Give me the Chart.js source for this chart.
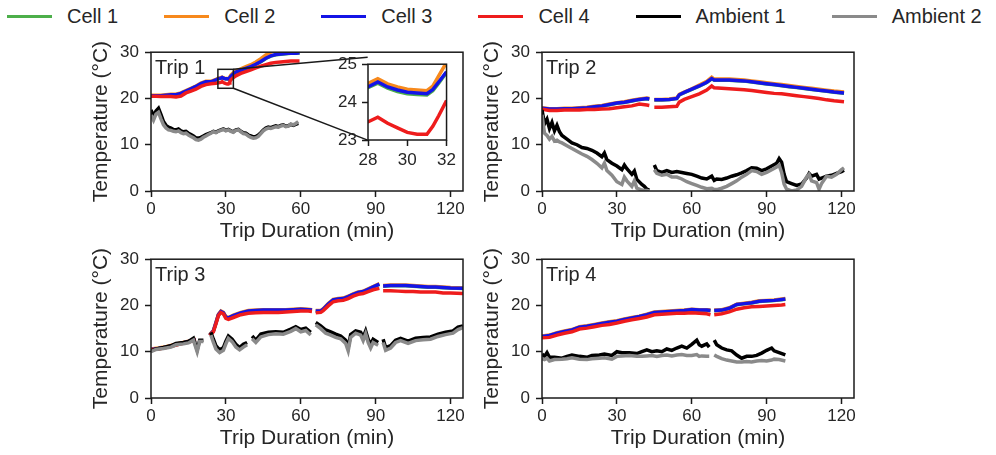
<!DOCTYPE html>
<html>
<head>
<meta charset="utf-8">
<script src="https://cdn.jsdelivr.net/npm/chart.js@4.4.1/dist/chart.umd.min.js"></script>
<style>
body { margin: 0; background: #fff; width: 996px; height: 455px; position: relative; overflow: hidden;
       font-family: 'Liberation Sans', Arial, sans-serif; }
.panel { position: absolute; }
#legend { position: absolute; left: 7px; top: 4px; height: 24px; display: flex; align-items: center;
          font-size: 20px; color: #262626; white-space: nowrap; }
.item { display: flex; align-items: center; margin-right: 46px; }
.swatch { width: 45px; height: 3px; margin-right: 15px; }
</style>
</head>
<body>
<div id="legend"></div>
<div class="panel" style="left:81px;top:36px;width:396px;height:211px"><canvas id="trip1"></canvas></div>
<div class="panel" style="left:472px;top:36px;width:396px;height:211px"><canvas id="trip2"></canvas></div>
<div class="panel" style="left:81px;top:243px;width:396px;height:211px"><canvas id="trip3"></canvas></div>
<div class="panel" style="left:472px;top:243px;width:396px;height:211px"><canvas id="trip4"></canvas></div>
<div class="panel" style="left:323px;top:49px;width:137px;height:119px"><canvas id="inset"></canvas></div>
<script>
var seriesNames = ['Cell 1', 'Cell 2', 'Cell 3', 'Cell 4', 'Ambient 1', 'Ambient 2'];
var seriesColors = ['#4daf4a', '#f7891c', '#1414e6', '#ee1c1c', '#000000', '#8a8a8a'];

var xTickValues = [0, 30, 60, 90, 120];
var yTickValues = [0, 10, 20, 30];
var insetXTicks = [28, 30, 32];
var insetYTicks = [23, 24, 25];

// zoom box drawn in trip 1 and where its connectors meet the inset (data units of trip 1)
var zoomBoxTime = [26.8, 33];
var zoomBoxTemp = [22.2, 26.3];
var insetCornerTime = 86.8;
var insetCornerTemp = [11.0, 28.9];

// ---- Trip 1 ----
var trip1CellTime = [0,2,4,6,8,10,12,14,16,18,20,22,24,26,27, 28,28.5,29,29.5,30,30.5,31,31.3,31.6,32, 33,34,36,38,40,42,44,46,48,50,52,54,56,58,59.5];
var trip1Cell1 = [20.55,20.55,20.55,20.65,20.75,20.75,21.05,21.55,22.05,22.55,23.15,23.55,23.55,23.95,24.25,
  24.38,24.5,24.37,24.28,24.22,24.2,24.19,24.3,24.5,24.78,
  25.25,25.65,26.05,26.45,26.85,27.35,27.95,28.65,29.15,29.45,29.55,29.65,29.75,29.75,29.85];
var trip1Cell2 = [20.7,20.7,20.7,20.8,20.9,20.9,21.2,21.7,22.2,22.7,23.3,23.7,23.7,24.1,24.4,
  24.49,24.62,24.48,24.4,24.34,24.32,24.3,24.42,24.69,25.05,
  25.6,26.0,26.4,26.9,27.3,27.9,28.6,29.4,30.0,30.4,30.6,30.7,30.8,30.8,30.9];
var trip1Cell3 = [20.6,20.6,20.6,20.7,20.8,20.8,21.1,21.6,22.1,22.6,23.2,23.6,23.6,24.0,24.3,
  24.4,24.53,24.4,24.32,24.26,24.24,24.22,24.33,24.53,24.8,
  25.3,25.7,26.1,26.5,26.9,27.4,28.0,28.7,29.2,29.5,29.6,29.7,29.8,29.8,29.9];
var trip1Cell4 = [20.5,20.5,20.4,20.4,20.4,20.3,20.5,21.2,21.6,22.0,22.6,23.0,23.2,23.3,23.4,
  23.48,23.6,23.44,23.32,23.2,23.15,23.15,23.36,23.64,24.04,
  24.5,24.9,25.4,25.8,26.2,26.6,27.0,27.3,27.6,27.8,27.9,28.0,28.1,28.1,28.1];
var trip1AmbTime = [0,1,2,3,4,5,6,7,8,9,10,11,12,13,14,15,16,17,18,19,20,21,22,23,24,25,26,27,28,29,
  30,31,32,33,34,35,36,37,38,39,40,41,42,43,44,45,46,47,48,49,50,51,52,53,54,55,56,57,58,59];
var trip1Ambient1 = [17.5,16.2,17.3,17.9,16.5,15.0,14.2,13.8,13.6,13.3, 13.2,13.4,13.0,12.8,12.9,12.5,12.2,11.9,11.5,11.4,
  11.6,11.9,12.2,12.4,12.6,12.9,12.7,13.0,13.2,13.4, 13.1,13.3,13.0,12.8,13.2,13.3,12.9,12.6,12.5,12.1,
  11.9,11.7,11.8,12.1,12.6,13.2,13.6,13.8,13.7,13.9, 14.1,13.9,14.2,14.3,14.0,14.1,14.4,14.2,14.4,14.6];
var trip1Ambient2 = [16.4,15.3,16.6,17.0,15.6,14.3,13.6,13.2,13.1,12.9, 12.8,13.0,12.6,12.4,12.5,12.1,11.8,11.5,11.1,11.0,
  11.2,11.6,11.9,12.2,12.5,12.8,12.6,12.9,13.1,13.3, 13.0,13.2,12.9,12.7,13.1,13.2,12.8,12.4,12.3,11.9,
  11.6,11.4,11.5,11.8,12.4,13.0,13.4,13.6,13.5,13.7, 13.9,13.8,14.0,14.2,13.9,14.0,14.5,14.3,14.6,15.0];

// ---- Trip 2 ----
var trip2CellTime = [0,3,6,9,12,15,18,21,24,27, 30,33,36,39,42,43,44,45,48,51, 54,55,57,60,63,66,68,69,72,75,
  78,81,84,87,90,93,96,99,102,105, 108,111,114,117,121];
var trip2Cell1 = [17.85,17.65,17.65,17.75,17.75,17.85,17.95,18.15,18.35,18.65, 18.95,19.15,19.45,19.75,19.95,19.85,null,19.65,19.65,19.75,
  19.95,20.75,21.25,21.95,22.65,23.45,24.25,23.95,23.95,23.95, 23.85,23.75,23.55,23.35,23.15,22.95,22.75,22.55,22.35,22.15,
  21.95,21.75,21.55,21.35,21.15];
var trip2Cell2 = [18.0,17.8,17.8,17.9,17.9,18.0,18.1,18.3,18.5,18.8, 19.1,19.3,19.6,19.9,20.1,20.0,null,19.8,19.8,19.9,
  20.1,20.9,21.4,22.1,22.9,23.7,24.6,24.2,24.2,24.2, 24.1,24.0,23.8,23.6,23.4,23.2,23.0,22.8,22.6,22.4,
  22.2,22.0,21.8,21.6,21.4];
var trip2Cell3 = [17.9,17.7,17.7,17.8,17.8,17.9,18.0,18.2,18.4,18.7, 19.0,19.2,19.5,19.8,20.0,19.9,null,19.7,19.7,19.8,
  20.0,20.8,21.3,22.0,22.7,23.5,24.3,24.0,24.0,24.0, 23.9,23.8,23.6,23.4,23.2,23.0,22.8,22.6,22.4,22.2,
  22.0,21.8,21.6,21.4,21.2];
var trip2Cell4 = [17.7,17.4,17.4,17.5,17.5,17.5,17.6,17.6,17.7,17.8, 18.0,18.2,18.4,18.8,18.6,18.5,null,18.1,18.1,18.2,
  18.3,19.2,19.8,20.4,21.0,21.8,22.7,22.3,22.2,22.1, 22.0,21.9,21.7,21.5,21.3,21.1,21.0,20.8,20.6,20.4,
  20.2,20.0,19.7,19.5,19.3];
var trip2AmbTime = [0,1,2,3,4,5,6,7,8, 10,12,14,16,18,20,22,24, 25,26,28,30,32,33,34,36,37,38,
  40,41,42,43,44,45,46,48,50,52, 54,56,58,60,62,64,66,68,69,70, 72,74,76,78,80,82,84,86,88,90,
  92,94,95,96,97,98,100,102,104,106, 107,108,110,111,112,114,116,118,120,121];
var trip2Ambient1 = [17.5,14.5,15.5,13.5,14.8,13.0,14.2,12.8,12.0, 11.2,10.4,10.0,9.4,9.2,8.8,8.2,7.4,
  8.2,6.8,6.0,5.4,4.6,5.6,4.8,3.6,4.3,2.5, 1.4,1.0,0.4,0.2,null,5.6,4.4,4.0,4.4,4.0,
  4.2,4.0,3.8,3.6,3.2,2.8,2.6,3.2,2.3,2.6, 2.5,2.8,3.2,3.5,3.9,4.4,5.0,4.9,4.4,4.8,
  5.4,6.0,7.0,6.2,3.6,2.0,1.6,1.2,1.5,2.8, 3.8,3.2,3.6,2.6,2.8,3.2,3.4,3.8,4.2,4.5];
var trip2Ambient2 = [16.5,12.5,12.0,11.2,11.8,10.8,11.0,10.6,10.4, 9.8,9.2,8.6,8.0,7.5,6.8,6.0,5.0,
  6.0,4.4,3.4,2.0,1.4,3.0,2.2,1.0,2.2,0.6, 0.2,0.1,0.1,0.0,null,4.6,3.8,3.4,3.6,3.0,
  3.0,2.6,2.0,1.6,1.2,0.8,0.5,0.6,0.3,0.3, 0.6,1.0,1.6,2.2,3.0,3.6,4.4,4.2,3.6,4.0,
  4.6,5.2,5.6,4.0,1.5,0.4,0.0,0.2,1.0,3.0, 3.6,2.2,1.8,0.4,1.6,3.2,3.0,3.6,4.6,5.0];

// ---- Trip 3 ----
var trip3CellTime = [0,3,6,9,12,15,18,20,23.5,25, 26,27,28,29,30,31,33,36,39,42, 45,48,51,54,57,60,63,64.5,65.2,66,
  68,69,71,73,75,77,79,81,83,85, 87,89,91.5,92.3,93,96,99,102,105,108, 111,114,117,120,125];
var trip3Cell1 = [10.45,10.65,10.95,11.35,11.75,12.15,12.55,null,13.55,14.45, 16.15,17.95,18.65,18.35,17.45,17.25,17.75,18.35,18.75,18.85,
  18.95,18.95,18.95,18.95,19.05,19.15,19.05,18.95,null,18.75, 18.75,19.15,20.25,21.15,21.35,21.45,21.85,22.35,22.75,22.95,
  23.45,23.95,24.55,null,24.15,24.25,24.25,24.25,24.15,24.05, 23.95,23.95,23.85,23.75,23.65];
var trip3Cell2 = [10.6,10.8,11.1,11.5,11.9,12.3,12.7,null,13.7,14.6, 16.3,18.1,18.8,18.5,17.6,17.4,17.9,18.5,18.9,19.0,
  19.1,19.1,19.1,19.1,19.2,19.3,19.2,19.1,null,18.9, 18.9,19.3,20.4,21.3,21.5,21.6,22.0,22.5,22.9,23.1,
  23.6,24.1,24.7,null,24.3,24.4,24.4,24.4,24.3,24.2, 24.1,24.1,24.0,23.9,23.8];
var trip3Cell3 = [10.5,10.7,11.0,11.4,11.8,12.2,12.6,null,13.6,14.5, 16.2,18.0,18.7,18.4,17.5,17.3,17.8,18.4,18.8,18.9,
  19.0,19.0,19.0,19.0,19.1,19.2,19.1,19.0,null,18.8, 18.8,19.2,20.3,21.2,21.4,21.5,21.9,22.4,22.8,23.0,
  23.5,24.0,24.6,null,24.2,24.3,24.3,24.3,24.2,24.1, 24.0,24.0,23.9,23.8,23.7];
var trip3Cell4 = [10.4,10.6,10.9,11.3,11.7,12.1,12.5,null,13.5,14.3, 16.0,17.8,18.5,18.2,17.2,17.0,17.4,18.0,18.3,18.4,
  18.5,18.5,18.5,18.6,18.7,18.8,18.8,18.7,null,18.4, 18.5,18.9,19.9,20.8,21.0,21.1,21.5,22.0,22.4,22.6,
  23.0,23.4,23.7,null,23.2,23.2,23.1,23.0,23.0,22.9, 22.9,22.9,22.7,22.7,22.6];
var trip3AmbTime = [0,2,5,8,10,13,15,17,18.5,19.5, 21,22,24,25,26,27.5,29,30,31,32.5, 34,35.5,37,38.5,39.5,40.5,42,44,47,50,
  53,56,58,60,62,64,65,66,68,70, 72,74,76,78,79,80,82,84,85,86, 87,88,89,91,92,93,94,96,98,100,
  103,106,109,112,115,118,121,123,125];
var trip3Ambient1 = [10.2,10.6,10.9,11.3,11.8,12.0,12.2,12.9,10.4,12.5, 12.5,null,14.2,12.7,11.3,10.4,10.9,12.3,13.4,12.7,
  11.6,10.9,11.6,12.0,null,13.4,12.5,13.8,14.2,14.3, 14.2,14.9,15.4,14.8,15.1,14.2,null,16.3,15.6,14.7,
  14.3,13.8,13.4,12.5,10.9,13.7,14.5,14.2,13.1,14.5, 12.7,11.6,12.7,12.0,null,12.7,10.9,11.3,12.5,12.9,
  12.3,12.9,13.1,13.2,13.8,14.2,14.5,15.3,15.6];
var trip3Ambient2 = [10.0,10.5,10.7,11.0,11.5,11.7,11.9,12.5,10.0,12.2, 12.2,null,13.6,12.0,10.6,9.8,10.3,11.7,12.9,12.2,
  11.0,10.4,11.0,11.5,null,12.8,12.0,13.2,13.7,13.9, 13.8,14.4,15.0,14.3,14.6,13.6,null,15.8,15.0,14.0,
  13.6,13.1,12.8,11.8,10.2,13.1,14.0,13.6,12.4,13.9, 12.0,10.8,12.0,11.4,null,12.0,10.3,10.8,12.0,12.4,
  11.8,12.4,12.6,12.7,13.3,13.7,14.0,14.8,15.2];

// ---- Trip 4 ----
var trip4CellTime = [0,3,6,9,12,15,18,21,24,27, 30,33,36,39,42,45,48,51,54,57, 60,63,66,67.5,68.2,69,72,75,78,81,
  84,87,90,93,96,97.5];
var trip4Cell1 = [13.25,13.45,13.95,14.35,14.65,15.25,15.45,15.75,16.05,16.35, 16.55,16.95,17.25,17.55,17.95,18.45,18.55,18.65,18.75,18.85,
  19.05,18.95,18.95,18.85,null,18.85,18.95,19.35,20.15,20.35, 20.55,20.85,20.95,21.05,21.25,21.35];
var trip4Cell2 = [13.4,13.6,14.1,14.5,14.8,15.4,15.6,15.9,16.2,16.5, 16.7,17.1,17.4,17.7,18.1,18.6,18.7,18.8,18.9,19.0,
  19.2,19.1,19.1,19.0,null,19.0,19.1,19.5,20.3,20.5, 20.7,21.0,21.1,21.2,21.4,21.5];
var trip4Cell3 = [13.3,13.5,14.0,14.4,14.7,15.3,15.5,15.8,16.1,16.4, 16.6,17.0,17.3,17.6,18.0,18.5,18.6,18.7,18.8,18.9,
  19.1,19.0,19.0,18.9,null,18.9,19.0,19.4,20.2,20.4, 20.6,20.9,21.0,21.1,21.3,21.4];
var trip4Cell4 = [13.0,13.1,13.6,14.0,14.3,14.9,15.1,15.4,15.7,15.9, 16.2,16.6,16.9,17.2,17.5,18.0,18.1,18.2,18.3,18.3,
  18.4,18.3,18.2,18.0,null,18.0,18.2,18.6,19.2,19.5, 19.7,19.8,19.9,20.0,20.1,20.2];
var trip4AmbTime = [0,1,2,3,5,8,10,12,15,18, 20,23,25,28,30,32,35,38,40,42, 44,46,48,50,52,54,56,58,60,62,
  63,64,66,67,68,69,70,72,74,76, 78,80,82,84,86,88,90,92,93,95, 97.5];
var trip4Ambient1 = [9.5,9.0,9.8,8.8,8.8,8.6,9.0,9.3,9.0,8.8, 9.2,9.3,9.5,9.2,10.0,9.8,9.8,9.6,10.0,10.4,
  10.0,10.2,10.0,10.6,10.3,10.8,11.2,10.8,11.6,12.5, 11.5,11.2,11.7,11.0,null,12.5,11.5,10.8,10.4,10.2,
  9.3,8.6,9.0,9.0,9.2,9.7,10.3,10.8,10.2,9.8, 9.3];
var trip4Ambient2 = [8.5,8.3,8.6,8.0,8.3,8.4,8.5,8.7,8.4,8.3, 8.5,8.6,8.7,8.4,9.0,9.1,9.2,9.0,9.0,9.1,
  9.2,9.0,9.2,9.3,9.1,9.3,9.4,9.2,9.2,9.4, 9.0,9.1,9.0,9.0,null,9.3,9.0,8.5,8.2,8.0,
  7.8,7.8,7.9,7.8,8.0,8.1,8.0,8.2,8.4,8.3, 8.0];

var FONT = "'Liberation Sans', Arial, sans-serif";
var TEXT = '#262626';
var AXIS = '#1a1a1a';

Chart.defaults.font.family = FONT;
Chart.defaults.color = TEXT;

function points(times, values) {
    return times.map(function (t, i) { return { x: t, y: values[i] }; });
}

function buildDatasets(cellTime, cells, ambTime, ambients) {
    var sets = [];
    cells.forEach(function (vals, i) {
        sets.push({ label: seriesNames[i], data: points(cellTime, vals), borderColor: seriesColors[i], order: 6 - i });
    });
    ambients.forEach(function (vals, j) {
        var i = 4 + j;
        sets.push({ label: seriesNames[i], data: points(ambTime, vals), borderColor: seriesColors[i], order: 6 - i });
    });
    sets.forEach(function (s) {
        s.borderWidth = 3.5;
        s.pointRadius = 0;
        s.tension = 0;
        s.fill = false;
        s.spanGaps = false;
    });
    return sets;
}

var panelDecor = {
    id: 'panelDecor',
    beforeDraw: function (chart, args, opts) {
        if (opts.whiteBg) {
            var a = chart.chartArea;
            chart.ctx.save();
            chart.ctx.fillStyle = '#fff';
            chart.ctx.fillRect(a.left, a.top, a.right - a.left, a.bottom - a.top);
            chart.ctx.restore();
        }
    },
    afterDatasetsDraw: function (chart, args, opts) {
        var ctx = chart.ctx, a = chart.chartArea;
        ctx.save();
        ctx.strokeStyle = AXIS;
        ctx.lineWidth = 1.5;
        if (opts.zoomBox) {
            var xs = chart.scales.x, ys = chart.scales.y;
            var x0 = xs.getPixelForValue(zoomBoxTime[0]), x1 = xs.getPixelForValue(zoomBoxTime[1]);
            var yLo = ys.getPixelForValue(zoomBoxTemp[0]), yHi = ys.getPixelForValue(zoomBoxTemp[1]);
            ctx.strokeRect(x0, yHi, x1 - x0, yLo - yHi);
            var cx = xs.getPixelForValue(insetCornerTime);
            ctx.beginPath();
            ctx.moveTo(x1, yHi);
            ctx.lineTo(cx, ys.getPixelForValue(insetCornerTemp[1]));
            ctx.moveTo(x1, yLo);
            ctx.lineTo(cx, ys.getPixelForValue(insetCornerTemp[0]));
            ctx.stroke();
        }
        ctx.strokeRect(a.left, a.top, a.right - a.left, a.bottom - a.top);
        ctx.fillStyle = TEXT;
        if (opts.label) {
            ctx.font = '20px ' + FONT;
            ctx.textAlign = 'left';
            ctx.textBaseline = 'alphabetic';
            ctx.fillText(opts.label, a.left + 4, a.top + 22);
        }
        if (opts.yTitle) {
            ctx.translate(a.left - 49.5, (a.top + a.bottom) / 2);
            ctx.rotate(-Math.PI / 2);
            ctx.font = '21px ' + FONT;
            ctx.textAlign = 'center';
            ctx.textBaseline = 'middle';
            ctx.fillText(opts.yTitle, 0, 0);
        }
        ctx.restore();
    }
};

function axis(min, max, tickValues, fitSize, horizontal, pad, title) {
    return {
        type: 'linear',
        min: min,
        max: max,
        afterBuildTicks: function (s) { s.ticks = tickValues.map(function (v) { return { value: v }; }); },
        afterFit: function (s) { if (horizontal) { s.height = fitSize; } else { s.width = fitSize; } },
        ticks: { font: { size: 17 }, color: TEXT, padding: pad, maxRotation: 0, autoSkip: false },
        grid: { display: true, drawOnChartArea: false, drawTicks: true, tickLength: 6, tickWidth: 1.5, tickColor: AXIS },
        border: { display: false },
        title: title ? { display: true, text: title, font: { size: 21 }, color: TEXT, padding: { top: 0, bottom: 3 } } : { display: false }
    };
}

function makeChart(id, datasets, decor, xRange, xTicks, yRange, yTicks, yWidth, xHeight, pads, xTitle, layoutPad) {
    return new Chart(document.getElementById(id), {
        type: 'line',
        data: { datasets: datasets },
        options: {
            responsive: true,
            maintainAspectRatio: false,
            animation: false,
            events: [],
            layout: { padding: layoutPad },
            plugins: { legend: { display: false }, tooltip: { enabled: false }, panelDecor: decor },
            scales: {
                x: axis(xRange[0], xRange[1], xTicks, xHeight, true, pads[0], xTitle),
                y: axis(yRange[0], yRange[1], yTicks, yWidth, false, pads[1], null)
            }
        },
        plugins: [panelDecor]
    });
}

var trips = [
    { id: 'trip1', label: 'Trip 1', cellTime: trip1CellTime, cells: [trip1Cell1, trip1Cell2, trip1Cell3, trip1Cell4],
      ambTime: trip1AmbTime, ambients: [trip1Ambient1, trip1Ambient2] },
    { id: 'trip2', label: 'Trip 2', cellTime: trip2CellTime, cells: [trip2Cell1, trip2Cell2, trip2Cell3, trip2Cell4],
      ambTime: trip2AmbTime, ambients: [trip2Ambient1, trip2Ambient2] },
    { id: 'trip3', label: 'Trip 3', cellTime: trip3CellTime, cells: [trip3Cell1, trip3Cell2, trip3Cell3, trip3Cell4],
      ambTime: trip3AmbTime, ambients: [trip3Ambient1, trip3Ambient2] },
    { id: 'trip4', label: 'Trip 4', cellTime: trip4CellTime, cells: [trip4Cell1, trip4Cell2, trip4Cell3, trip4Cell4],
      ambTime: trip4AmbTime, ambients: [trip4Ambient1, trip4Ambient2] }
];

trips.forEach(function (t) {
    makeChart(t.id, buildDatasets(t.cellTime, t.cells, t.ambTime, t.ambients),
        { label: t.label, yTitle: 'Temperature (\u00B0C)', zoomBox: t.id === 'trip1' },
        [0, 125], xTickValues, [0, 30], yTickValues, 70, 56, [2, 6], 'Trip Duration (min)',
        { top: 16, right: 14, left: 0, bottom: 0 });
});

// inset for trip 1
makeChart('inset', buildDatasets(trip1CellTime, [trip1Cell1, trip1Cell2, trip1Cell3, trip1Cell4], [], []),
    { whiteBg: true },
    [28, 32], insetXTicks, [23, 25], insetYTicks, 45, 28, [4, 5], null,
    { top: 8, right: 10, left: 0, bottom: 0 });

// legend
var legend = document.getElementById('legend');
seriesNames.forEach(function (name, i) {
    var item = document.createElement('div');
    item.className = 'item';
    var sw = document.createElement('span');
    sw.className = 'swatch';
    sw.style.background = seriesColors[i];
    var txt = document.createElement('span');
    txt.textContent = name;
    item.appendChild(sw);
    item.appendChild(txt);
    legend.appendChild(item);
});
</script>
</body>
</html>
